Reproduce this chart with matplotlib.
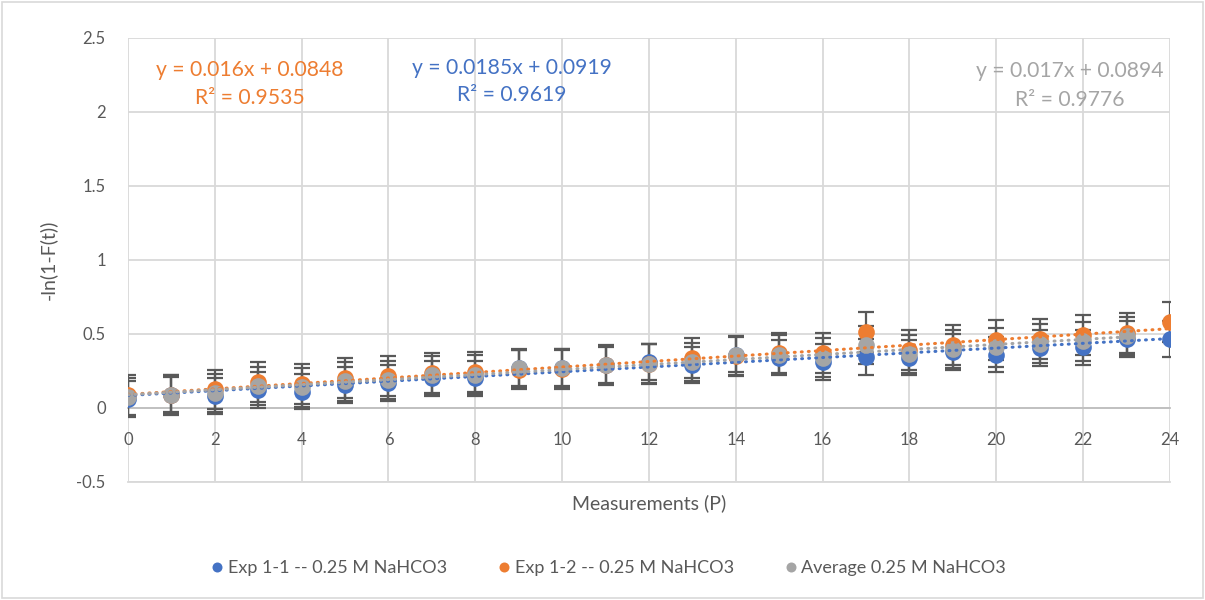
import matplotlib
matplotlib.use("Agg")
import matplotlib.pyplot as plt
import numpy as np
from matplotlib.patches import Rectangle

plt.rcParams['font.family'] = ['Lato', 'DejaVu Sans']

# Measurements
x_exp = list(range(25))
x_avg = list(range(24))

exp11 = [0.06, 0.09, 0.08, 0.12, 0.11, 0.155, 0.17, 0.20, 0.20, 0.27, 0.27, 0.29,
         0.31, 0.29, 0.36, 0.34, 0.31, 0.345, 0.34, 0.38, 0.36, 0.405, 0.41, 0.465, 0.465]
exp12 = [0.09, 0.09, 0.125, 0.175, 0.165, 0.205, 0.215, 0.235, 0.245, 0.26, 0.265, 0.29,
         0.30, 0.335, 0.35, 0.37, 0.37, 0.515, 0.39, 0.425, 0.46, 0.465, 0.49, 0.505, 0.58]
avg = [0.075, 0.09, 0.10, 0.15, 0.14, 0.18, 0.19, 0.22, 0.225, 0.27, 0.27, 0.29,
       0.30, 0.31, 0.355, 0.36, 0.34, 0.425, 0.365, 0.40, 0.41, 0.435, 0.45, 0.485]

err11 = [0.12] * 25
err12 = [0.135] * 25
err_avg = [0.13] * 24

# Linear trend coefficients (slope, intercept)
trend11 = (0.016, 0.0848)
trend12 = (0.0185, 0.0919)
trend_avg = (0.017, 0.0894)

labels = ["Exp 1-1 -- 0.25 M NaHCO3", "Exp 1-2 -- 0.25 M NaHCO3", "Average 0.25 M NaHCO3"]
eq_texts = [("y = 0.016x + 0.0848", "R² = 0.9535"),
            ("y = 0.0185x + 0.0919", "R² = 0.9619"),
            ("y = 0.017x + 0.0894", "R² = 0.9776")]

yticks = [-0.5, 0, 0.5, 1, 1.5, 2, 2.5]
ytick_labels = ["-0.5", "0", "0.5", "1", "1.5", "2", "2.5"]
xticks = list(range(0, 25, 2))

BLUE = "#4472C4"
ORANGE = "#ED7D31"
GRAY = "#A5A5A5"
TXT = "#595959"
GRID = "#D9D9D9"

fig = plt.figure(figsize=(12.05, 6.0), dpi=100)
ax = fig.add_axes([0.1062, 0.1967, 0.8647, 0.74])

series = [
    (x_exp, exp11, err11, BLUE, labels[0]),
    (x_exp, exp12, err12, ORANGE, labels[1]),
    (x_avg, avg, err_avg, GRAY, labels[2]),
]

for xs, ys, es, col, lab in series:
    ax.errorbar(xs, ys, yerr=es, fmt='none', ecolor=TXT, elinewidth=1.6,
                capsize=5.5, capthick=1.6, zorder=3)

handles = []
for xs, ys, es, col, lab in series:
    h, = ax.plot(xs, ys, 'o', color=col, markersize=12, markeredgewidth=0,
                 label=lab, zorder=4)
    handles.append(h)

for (xs, ys, es, col, lab), (m, b) in zip(series, [trend11, trend12, trend_avg]):
    xx = np.array([xs[0], xs[-1]], dtype=float)
    ax.plot(xx, m * xx + b, color=col, linewidth=2.2, dashes=(0.3, 2.0),
            dash_capstyle='round', zorder=5)

ax.set_xlim(0, 24)
ax.set_ylim(-0.5, 2.5)
ax.set_yticks(yticks)
ax.set_yticklabels(ytick_labels)
ax.set_xticks(xticks)

ax.grid(True, color=GRID, linewidth=1.3, zorder=0)
ax.set_axisbelow(True)
for s in ['top', 'right', 'left']:
    ax.spines[s].set_visible(False)
ax.spines['bottom'].set_position(('data', 0))
ax.spines['bottom'].set_color("#BFBFBF")
ax.spines['bottom'].set_linewidth(1.3)
ax.spines['bottom'].set_zorder(1)
ax.plot([0, 24], [-0.5, -0.5], color=GRID, linewidth=1.3, zorder=0, clip_on=False)
ax.tick_params(axis='both', length=0, colors=TXT, labelsize=12)
ax.tick_params(axis='x', pad=17)
ax.tick_params(axis='y', pad=16)

ax.set_xlabel("Measurements (P)", fontsize=14, color=TXT)
ax.xaxis.set_label_coords(0.5, -0.027)
ax.set_ylabel("-ln(1-F(t))", fontsize=14, color=TXT)
ax.yaxis.set_label_coords(-0.068, 0.5)

# trendline equations
eq_style = dict(fontsize=15.2, ha='center', va='center')
ax.text(2.81, 2.284, eq_texts[0][0], color=ORANGE, **eq_style)
ax.text(2.81, 2.095, eq_texts[0][1], color=ORANGE, **eq_style)
ax.text(8.84, 2.30, eq_texts[1][0], color=BLUE, **eq_style)
ax.text(8.84, 2.115, eq_texts[1][1], color=BLUE, **eq_style)
ax.text(21.7, 2.277, eq_texts[2][0], color=GRAY, **eq_style)
ax.text(21.7, 2.08, eq_texts[2][1], color=GRAY, **eq_style)

leg = fig.legend(handles=handles, loc='center', bbox_to_anchor=(0.503, 0.053), ncol=3,
                 frameon=False, fontsize=13, handletextpad=0.0, columnspacing=2.55,
                 markerscale=0.6, handlelength=1.2)
for t in leg.get_texts():
    t.set_color(TXT)

fig.add_artist(Rectangle((0.002, 0.004), 0.996, 0.992, transform=fig.transFigure,
                         fill=False, edgecolor="#D9D9D9", linewidth=1.2))

fig.savefig("out.png", dpi=100, facecolor='white')
